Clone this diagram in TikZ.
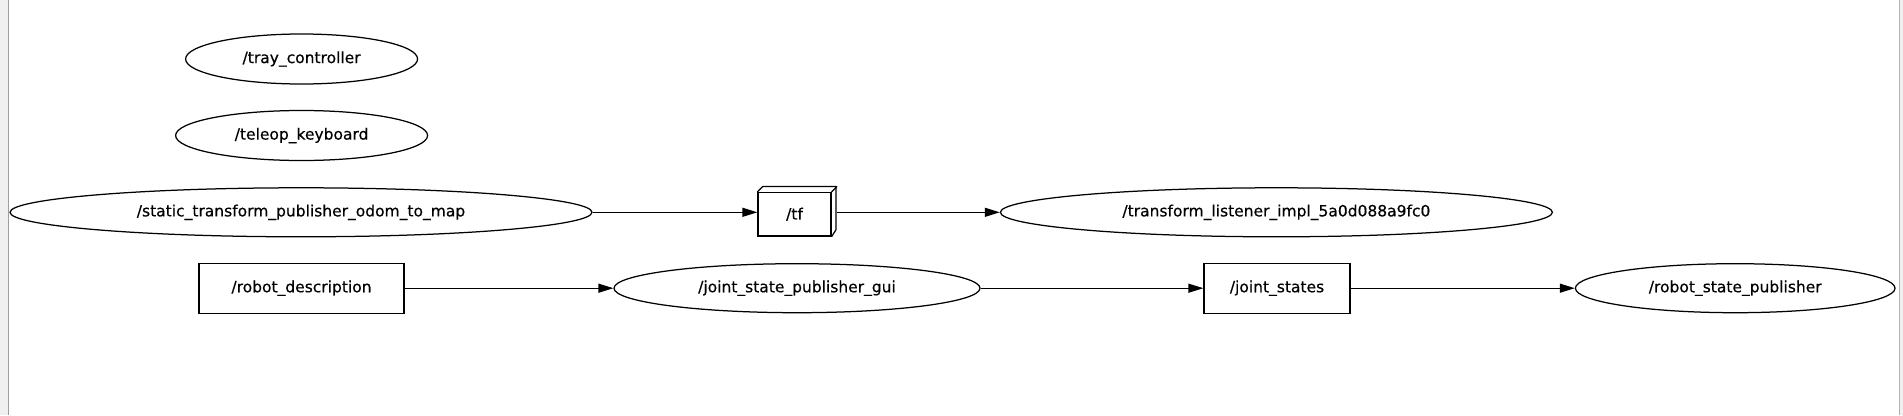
\documentclass[tikz,border=0pt]{standalone}
\usepackage{fontspec}
\setmainfont{DejaVu Sans}[FakeBold=0.4]
\usetikzlibrary{shapes.geometric,arrows.meta}
\begin{document}
\begin{tikzpicture}[x=1pt,y=-1pt,
  every node/.style={font=\fontsize{15.5}{18}\selectfont, text=black},
  nodeell/.style={draw=black, line width=1.25pt, ellipse, inner sep=0pt},
  topicbox/.style={draw=black, line width=1.25pt, rectangle, inner sep=0pt},
  conn/.style={draw=black, line width=1.25pt, -{Triangle[length=15pt,width=9pt]}}]
\useasboundingbox (0,0) rectangle (1903,415);
\fill[white] (0,0) rectangle (1903,415);
% window frame
\fill[black!6] (0,0) rectangle (8,415);
\draw[black!38, line width=1pt] (8.5,0) -- (8.5,415);
\fill[black!6] (1899,0) rectangle (1903,415);
\draw[black!30, line width=1pt] (1899,0) -- (1899,415);
% nodes
\node[nodeell, minimum width=232pt, minimum height=50pt] (tray) at (301.6,59) {/tray\_controller};
\node[nodeell, minimum width=252pt, minimum height=50pt] (teleop) at (301.6,135.5) {/teleop\_keyboard};
\node[nodeell, minimum width=582pt, minimum height=49pt] (static) at (301,212.3) {/static\_transform\_publisher\_odom\_to\_map};
\node[topicbox, minimum width=205pt, minimum height=50pt] (robdesc) at (301.5,288.2) {/robot\_description};
\node[topicbox, minimum width=73pt, minimum height=43.5pt] (tf) at (794.5,214.3) {/tf};
\draw[line width=1.25pt, line join=round] (tf.north west) -- ++(5.5,-5.5) -- ++(73,0) -- ++(0,43.5) -- (tf.south east);
\draw[line width=1.25pt] (tf.north east) -- ++(5.5,-5.5);
\node[nodeell, minimum width=552pt, minimum height=49pt] (tlist) at (1276.4,212.3) {/transform\_listener\_impl\_5a0d088a9fc0};
\node[nodeell, minimum width=366pt, minimum height=49pt] (jspgui) at (797,288.2) {/joint\_state\_publisher\_gui};
\node[topicbox, minimum width=146pt, minimum height=50pt] (jstates) at (1277,288.2) {/joint\_states};
\node[nodeell, minimum width=319.6pt, minimum height=49pt] (rsp) at (1735.2,288.2) {/robot\_state\_publisher};
% connectors
\draw[conn] (static.east) -- (static.east -| tf.west);
\draw[conn] ([xshift=5.5pt]tf.east |- tlist.west) -- (tlist.west);
\draw[conn] (robdesc.east) -- (jspgui.west);
\draw[conn] (jspgui.east) -- (jstates.west);
\draw[conn] (jstates.east) -- (rsp.west);
\end{tikzpicture}
\end{document}
